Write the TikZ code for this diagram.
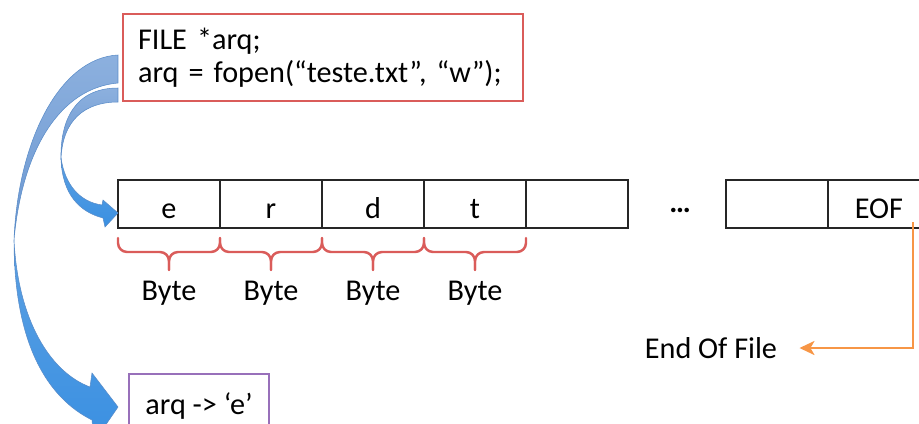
\documentclass[tikz,border=0pt]{standalone}
\usepackage{fontspec}
\setmainfont{Carlito}
\usetikzlibrary{positioning, arrows.meta, calc}

\definecolor{codered}{RGB}{218,92,90}
\definecolor{ptrpurple}{RGB}{152,112,186}
\definecolor{eoforange}{RGB}{247,150,70}
\definecolor{paleblue}{RGB}{140,176,222}
\definecolor{midblue}{RGB}{108,152,210}
\definecolor{brightblue}{RGB}{92,160,226}
\definecolor{deepblue}{RGB}{58,144,226}
\definecolor{edgeblue}{RGB}{90,140,200}

\tikzset{
  cell/.style={draw=black!85, line width=0.6pt, minimum width=2.04cm,
    minimum height=0.96cm, inner sep=0pt, outer sep=0pt,
    text height=0.56cm, text depth=0pt},
  bytebrace/.style={draw=codered, line width=1.4pt, line cap=round,
    rounded corners=0.18cm},
  eofline/.style={draw=eoforange, line width=1.4pt,
    -{Stealth[length=0.3cm, width=0.28cm, inset=0.08cm]}},
  backface/.style={draw=edgeblue, line width=0.3pt,
    top color=paleblue, bottom color=midblue},
  frontface/.style={draw=edgeblue, line width=0.3pt,
    top color=brightblue, bottom color=deepblue},
}

\begin{document}
\begin{tikzpicture}[x=0.02cm, y=-0.02cm, font=\fontsize{17.2}{19}\selectfont]

  % page frame
  \clip (0,0) rectangle (919,423);

  % Code that opens the file
  \node[draw=codered, line width=1.2pt, anchor=north west, text width=7.4cm,
        inner xsep=0.3cm, minimum height=1.74cm, align=left]
        (code) at (122,13) {FILE *arq;\\arq = fopen(“teste.txt”, “w”);};

  % Bytes of the file
  \foreach \ch [count=\i] in {e,r,d,t} {
    \node[cell] (c\i) at (67+102*\i,204) {\ch};
  }
  \node[cell] (c5) at (577,204) {};
  \node (dots) at (680,210) {\textbf{…}};
  \node[cell] (c6) at (777,204) {};
  \node[cell] (eof) at (879,204) {EOF};

  % One brace per byte
  \foreach \i in {1,...,4} {
    \coordinate (tip\i) at ([shift={(0,42)}]c\i.south);
    \draw[bytebrace] ([shift={(0,10)}]c\i.south west) |- ([shift={(0,24)}]c\i.south) -- (tip\i);
    \draw[bytebrace] ([shift={(0,10)}]c\i.south east) |- ([shift={(0,24)}]c\i.south) -- (tip\i);
    \node (b\i) at ([shift={(0,65)}]c\i.south) {Byte};
  }

  % End of file marker
  \node[inner sep=0pt] (endfile) at (711,348) {End Of File};
  \draw[eofline] ([shift={(34,-6)}]eof.south) |- ([shift={(22,0)}]endfile.east);

  % Pointer box
  \node[draw=ptrpurple, line width=1.2pt, anchor=north west, minimum width=2.8cm,
        minimum height=1.28cm] (ptr) at (128,373) {arq -> ‘e’};

  % Long curved arrow down to the pointer box
  \shade[backface] (118,55) .. controls (60,58) and (18,140) .. (14,240)
    .. controls (22,150) and (60,88) .. (118,83) -- cycle;
  \shade[frontface] (14,240) .. controls (14,345) and (48,398) .. (92,420)
    -- (94,442) -- (118,407) -- (92,373) -- (90,387)
    .. controls (50,372) and (18,320) .. (14,240) -- cycle;

  % Short curved arrow into the first byte
  \shade[backface] (118,88) .. controls (75,88) and (60,120) .. (61,160)
    .. controls (62,120) and (85,102) .. (118,102) -- cycle;
  \shade[frontface] (61,158) .. controls (62,195) and (80,212) .. (103,218)
    -- (105,227) -- (118,213) -- (103,200) -- (102,205)
    .. controls (80,202) and (65,185) .. (61,158) -- cycle;

\end{tikzpicture}
\end{document}
